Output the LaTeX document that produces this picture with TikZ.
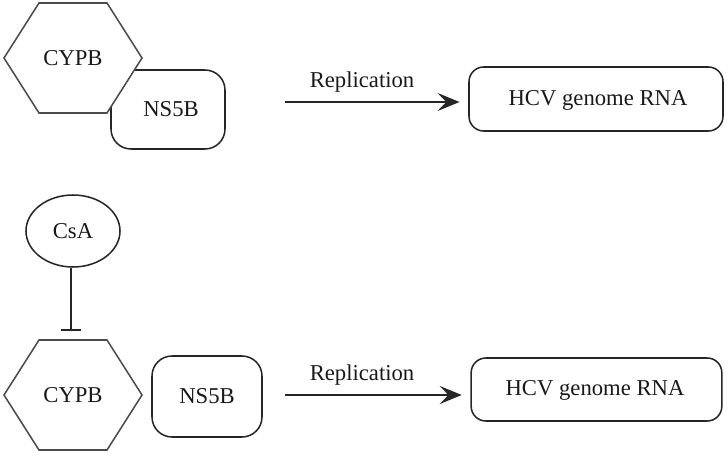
\documentclass[tikz,border=0pt]{standalone}
\usepackage{fontspec}
\setmainfont{Liberation Serif}
\usetikzlibrary{shapes.geometric,arrows.meta,calc}
\begin{document}
\begin{tikzpicture}[x=0.75pt,y=-0.75pt,
  every node/.style={font=\fontsize{17}{20}\selectfont, text=black!90},
  line/.style={draw=black!85, line width=1.15pt},
  rbox/.style={line, rounded corners=15pt, fill=white, inner sep=0pt},
  hexline/.style={line, draw=black!70, fill=white, line join=miter},
  lbl/.style={inner sep=0pt},
  arr/.style={line, -{Stealth[length=16.5pt,width=13.5pt,inset=6.5pt]}},
  inh/.style={line, -{Bar[width=15pt]}}]
\useasboundingbox (0,0) rectangle (728,456);
% top row
\node[rbox, minimum width=85.5pt, minimum height=59.25pt] (ns1) at (168,109.5) {};
\node[lbl] (ns1t) at (171,109) {NS5B};
\coordinate (h1) at (73,58);
\draw[hexline] ($(h1)+(-69,0)$) -- ($(h1)+(-34,-55)$) -- ($(h1)+(34,-55)$) -- ($(h1)+(69,0)$) -- ($(h1)+(34,55)$) -- ($(h1)+(-34,55)$) -- cycle;
\node[lbl] (cy1) at (h1) {CYPB};
\node[rbox, rounded corners=11pt, minimum width=190.5pt, minimum height=48pt] (hcv1) at (596,99) {};
\node[lbl] (hcv1t) at (598,100) {HCV genome RNA};
\coordinate (a1) at (285,102);
\draw[arr, shorten >=6.5pt] (a1) -- (a1 -| hcv1.west);
\node[lbl] (r1) at (362,82) {Replication};
% bottom row
\node[ellipse, line, minimum width=70.5pt, minimum height=54pt, inner sep=0pt] (csa) at (73,231) {};
\node[lbl] (csat) at (73,231) {CsA};
\coordinate (h2) at (73,395);
\draw[hexline] ($(h2)+(-69,0)$) -- ($(h2)+(-34,-55)$) -- ($(h2)+(34,-55)$) -- ($(h2)+(69,0)$) -- ($(h2)+(34,55)$) -- ($(h2)+(-34,55)$) -- cycle;
\node[lbl] (cy2) at (h2) {CYPB};
\coordinate (bar) at (71,331);
\draw[inh] (csa.south -| bar) -- (bar);
\node[rbox, minimum width=82.5pt, minimum height=60.75pt] (ns2) at (207,396.5) {};
\node[lbl] (ns2t) at (207,396) {NS5B};
\node[rbox, rounded corners=11pt, minimum width=188pt, minimum height=47.25pt] (hcv2) at (596.5,389.5) {};
\node[lbl] (hcv2t) at (595,390) {HCV genome RNA};
\coordinate (a2) at (285,395);
\draw[arr, shorten >=6.5pt] (a2) -- (a2 -| hcv2.west);
\node[lbl] (r2) at (362,375) {Replication};
\end{tikzpicture}
\end{document}
